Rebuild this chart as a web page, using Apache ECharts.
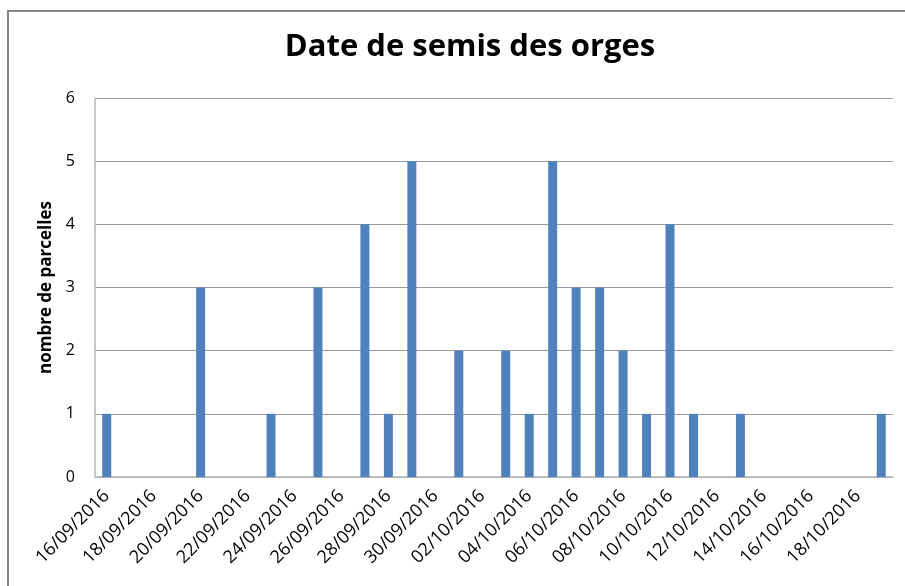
<!DOCTYPE html>
<html>
<head>
<meta charset="utf-8">
<script src="https://cdn.jsdelivr.net/npm/echarts@6/dist/echarts.min.js"></script>
<style>html,body{margin:0;padding:0;background:#fff}#c{width:905px;height:586px}</style>
</head>
<body>
<div id="c"></div>
<script>
var categories = ["16/09/2016","17/09/2016","18/09/2016","19/09/2016","20/09/2016","21/09/2016","22/09/2016","23/09/2016","24/09/2016","25/09/2016","26/09/2016","27/09/2016","28/09/2016","29/09/2016","30/09/2016","01/10/2016","02/10/2016","03/10/2016","04/10/2016","05/10/2016","06/10/2016","07/10/2016","08/10/2016","09/10/2016","10/10/2016","11/10/2016","12/10/2016","13/10/2016","14/10/2016","15/10/2016","16/10/2016","17/10/2016","18/10/2016","19/10/2016"];
var parcelles = [1,0,0,0,3,0,0,1,0,3,0,4,1,5,0,2,0,2,1,5,3,3,2,1,4,1,0,1,0,0,0,0,0,1];
var yTicks = [0,1,2,3,4,5,6];

var chart = echarts.init(document.getElementById('c'));
chart.setOption({
  animation: false,
  backgroundColor: '#fff',
  title: {
    text: 'Date de semis des orges',
    left: 465, top: 27, textAlign: 'center',
    textStyle: {fontFamily: 'Open Sans', fontWeight: 'bold', fontSize: 31, color: '#000'}
  },
  graphic: [{
    type: 'rect', shape: {x: 8, y: 11, width: 1000, height: 1000},
    style: {fill: 'none', stroke: '#868686', lineWidth: 2}, silent: true
  }],
  grid: {left: 95, right: 12, top: 98, bottom: 109},
  xAxis: {
    type: 'category', data: categories, boundaryGap: true,
    axisLine: {lineStyle: {color: '#b8b8b8', width: 1.5}},
    axisTick: {show: false},
    axisLabel: {interval: 1, rotate: 45, fontFamily: 'Open Sans', fontSize: 18, color: '#000', margin: 16}
  },
  yAxis: {
    type: 'value', min: yTicks[0], max: yTicks[yTicks.length - 1], interval: 1,
    name: 'nombre de parcelles', nameLocation: 'middle', nameGap: 40,
    nameTextStyle: {fontFamily: 'Open Sans', fontWeight: 'bold', fontSize: 17, color: '#000'},
    axisLine: {show: true, lineStyle: {color: '#b8b8b8', width: 1.5}},
    axisTick: {show: false},
    axisLabel: {fontFamily: 'Open Sans', fontSize: 16, color: '#000', margin: 20},
    splitLine: {lineStyle: {color: '#9a9a9a', width: 1}}
  },
  series: [{
    type: 'bar', data: parcelles, barWidth: 9,
    itemStyle: {color: '#4f81bd'}
  }]
});
</script>
</body>
</html>
